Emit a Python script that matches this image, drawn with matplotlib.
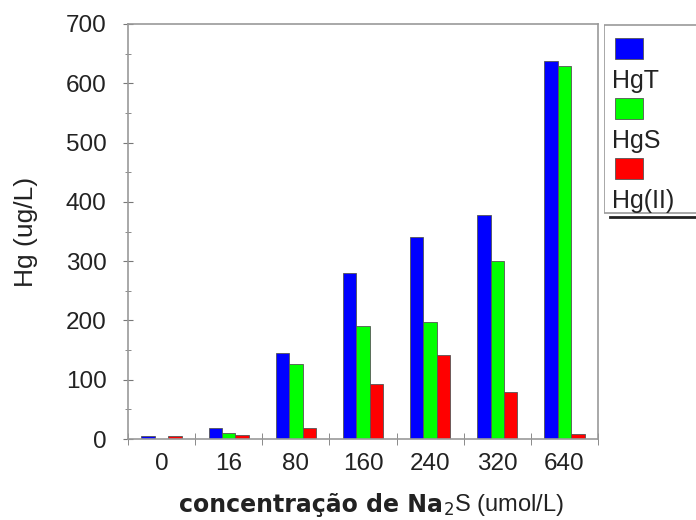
#Hg species vs Na2S concentration, grouped bars
import matplotlib.pyplot as plt
import numpy as np
from matplotlib import rcParams
from matplotlib.patches import Rectangle

rcParams['font.family'] = 'sans-serif'
rcParams['font.sans-serif'] = ['Liberation Sans', 'DejaVu Sans']

concentrations = ['0', '16', '80', '160', '240', '320', '640']
HgT = [5, 18, 145, 280, 340, 378, 638]
HgS = [0, 10, 127, 190, 198, 300, 630]
HgII = [5, 6, 18, 92, 142, 80, 8]
series_names = ['HgT', 'HgS', 'Hg(II)']
colors = ['#0000ff', '#00ff00', '#ff0000']

fig = plt.figure(figsize=(6.96, 5.2), dpi=100)
ax = fig.add_axes([128/696, 1-439/520, 470/696, 415/520])

index = np.arange(len(concentrations))
w = 0.2
for k, (vals, c) in enumerate(zip([HgT, HgS, HgII], colors)):
    ax.bar(index + (k-1)*w, vals, w, color=c, edgecolor='#555555', linewidth=0.6)

ax.set_xlim(-0.5, len(concentrations)-0.5)
ax.set_ylim(0, 700)
ax.set_yticks(range(0, 701, 100))
ax.set_yticks(range(50, 701, 100), minor=True)
ax.set_xticks(index)
ax.set_xticklabels(concentrations)
ax.set_xticks(np.arange(-0.5, len(concentrations)), minor=True)
ax.tick_params(axis='x', which='major', length=0, pad=10, labelsize=17.5, labelcolor='#222222')
ax.tick_params(axis='x', which='minor', length=8, direction='inout', color='#777777')
ax.tick_params(axis='y', which='both', direction='inout', color='#777777', labelsize=17.5,
               labelcolor='#222222', pad=12)
ax.tick_params(axis='y', which='major', length=7)
ax.tick_params(axis='y', which='minor', length=4)
for s in ax.spines.values():
    s.set_color('#999999')
    s.set_linewidth(1.2)

ax.set_ylabel('Hg (ug/L)', fontsize=19, color='#222222')
ax.yaxis.set_label_coords((38 - 128)/470, 0.5)

# x label: bold part + regular part
fig.text(443/696, 1-505/520, 'concentração de Na', fontsize=17, fontweight='bold',
         family='DejaVu Sans', ha='right', va='center', color='#222222')
fig.text(443/696, 1-505/520, r'$_2$S (umol/L)', fontsize=17, ha='left', va='center',
         color='#222222')

# legend box on the right
lax = fig.add_axes([604/696, 1-220/520, 92/696, 196/520])
lax.set_xlim(604, 696)
lax.set_ylim(220, 24)
lax.axis('off')
lax.add_patch(Rectangle((604, 25), 100, 188, facecolor='white', edgecolor='#999999', lw=1.2))
lax.plot([610, 696], [217, 217], color='#222222', lw=2)
for k, (name, c) in enumerate(zip(series_names, colors)):
    y0 = 38 + k*60
    lax.add_patch(Rectangle((615, y0), 28, 21, facecolor=c, edgecolor='#555555', lw=0.6))
    lax.text(612, y0 + 50, name, fontsize=18, ha='left', va='baseline', color='#222222')

fig.savefig('out.png', dpi=100)
